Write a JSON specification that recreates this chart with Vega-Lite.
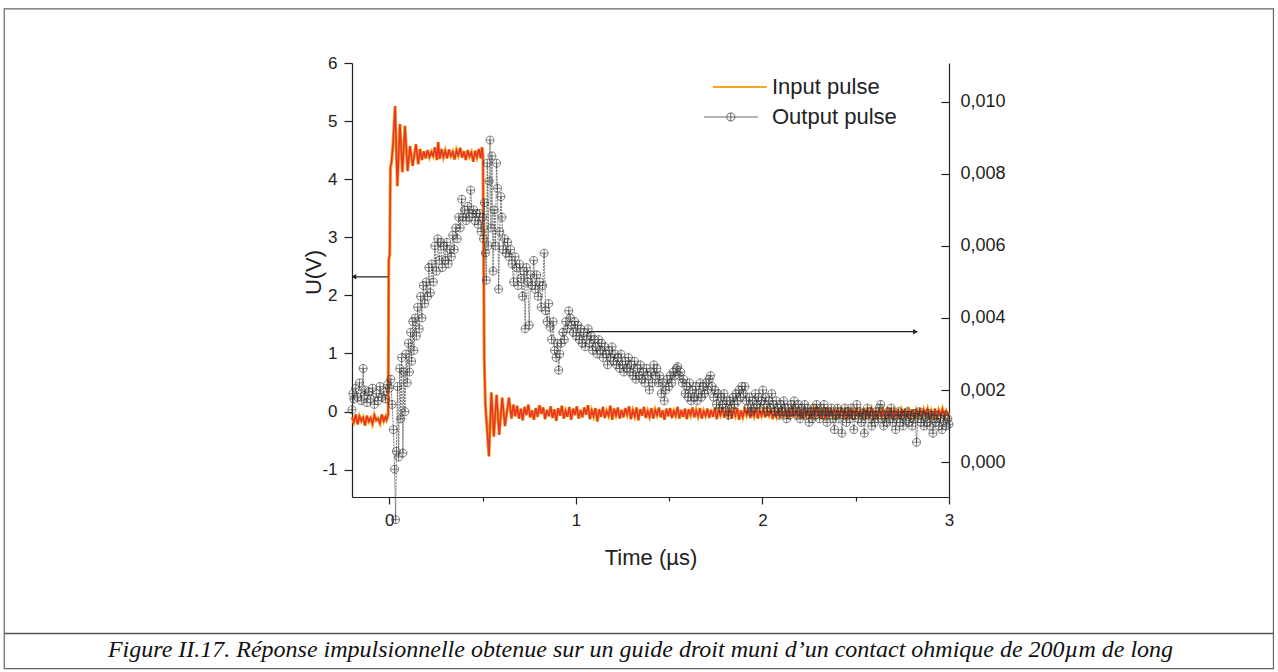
{
"$schema": "https://vega.github.io/schema/vega-lite/v6.json",
"width": 597,
"height": 434,
"autosize": {"type": "none"},
"padding": {"left": 352, "top": 63, "right": 329, "bottom": 175},
"background": "white",
"config": {
  "view": {"stroke": null},
  "font": "Liberation Sans",
  "axis": {"labelFont": "Liberation Sans", "titleFont": "Liberation Sans", "titleFontWeight": "normal", "grid": false, "domainColor": "#222", "tickColor": "#222", "labelColor": "#222", "titleColor": "#222", "domainWidth": 1.2, "tickWidth": 1.2, "labelOverlap": false, "labelFlush": false},
  "legend": {"labelFont": "Liberation Sans"}
},
"title": {"text": "Figure II.17. Réponse impulsionnelle obtenue sur un guide droit muni d’un contact ohmique de 200µm de long", "orient": "bottom", "anchor": "middle", "font": "Liberation Serif", "fontSize": 24, "fontStyle": "italic", "fontWeight": "normal", "color": "#111", "offset": -31, "dx": -10},
"datasets": {
"inp": [
{"t":-0.2,"u":-0.1},{"t":-0.19,"u":-0.18},{"t":-0.18,"u":-0.05},{"t":-0.17,"u":-0.22},{"t":-0.16,"u":-0.08},{"t":-0.15,"u":-0.16},{"t":-0.14,"u":-0.1},{"t":-0.13,"u":-0.24},{"t":-0.12,"u":-0.07},{"t":-0.11,"u":-0.17},{"t":-0.1,"u":-0.11},{"t":-0.09,"u":-0.21},{"t":-0.08,"u":-0.06},{"t":-0.07,"u":-0.15},{"t":-0.06,"u":-0.12},{"t":-0.05,"u":-0.2},{"t":-0.04,"u":-0.05},{"t":-0.03,"u":-0.16},{"t":-0.02,"u":-0.09},{"t":-0.015,"u":-0.14},{"t":-0.01,"u":-0.1},{"t":-0.006,"u":-0.05},
{"t":-0.003,"u":2.6},{"t":0.002,"u":2.7},{"t":0.006,"u":4.2},{"t":0.012,"u":4.3},{"t":0.02,"u":4.6},{"t":0.031,"u":5.26},{"t":0.043,"u":3.88},{"t":0.057,"u":4.95},{"t":0.07,"u":4.12},{"t":0.084,"u":4.92},{"t":0.098,"u":4.14},{"t":0.111,"u":4.57},{"t":0.125,"u":4.23},{"t":0.143,"u":4.6},{"t":0.155,"u":4.26},{"t":0.165,"u":4.52},{"t":0.175,"u":4.33},{"t":0.185,"u":4.48},
{"t":0.195,"u":4.36},{"t":0.205,"u":4.5},{"t":0.215,"u":4.38},{"t":0.225,"u":4.47},{"t":0.235,"u":4.4},{"t":0.245,"u":4.55},{"t":0.255,"u":4.33},{"t":0.262,"u":4.64},{"t":0.27,"u":4.35},{"t":0.28,"u":4.52},{"t":0.29,"u":4.38},{"t":0.3,"u":4.49},{"t":0.31,"u":4.36},{"t":0.32,"u":4.51},{"t":0.33,"u":4.4},{"t":0.34,"u":4.47},{"t":0.35,"u":4.34},{"t":0.36,"u":4.5},{"t":0.37,"u":4.41},{"t":0.38,"u":4.54},{"t":0.39,"u":4.37},{"t":0.4,"u":4.48},{"t":0.41,"u":4.33},{"t":0.42,"u":4.5},{"t":0.43,"u":4.39},{"t":0.44,"u":4.46},{"t":0.45,"u":4.3},{"t":0.46,"u":4.49},{"t":0.47,"u":4.38},{"t":0.48,"u":4.52},{"t":0.49,"u":4.36},{"t":0.497,"u":4.55},
{"t":0.502,"u":4.4},{"t":0.509,"u":0.9},{"t":0.515,"u":0.12},{"t":0.534,"u":-0.77},{"t":0.547,"u":0.33},{"t":0.56,"u":-0.43},{"t":0.575,"u":0.29},{"t":0.589,"u":-0.4},{"t":0.605,"u":0.24},{"t":0.62,"u":-0.25},{"t":0.641,"u":0.24},{"t":0.655,"u":-0.12},{"t":0.665,"u":0.12},
{"t":0.675,"u":-0.08},{"t":0.685,"u":0.1},{"t":0.695,"u":-0.12},{"t":0.705,"u":0.05},{"t":0.715,"u":-0.15},{"t":0.725,"u":0.08},{"t":0.735,"u":-0.06},{"t":0.745,"u":0.12},{"t":0.755,"u":-0.1},{"t":0.765,"u":0.02},{"t":0.775,"u":-0.14},{"t":0.785,"u":0.06},{"t":0.795,"u":-0.09},{"t":0.805,"u":0.11},{"t":0.815,"u":-0.04},{"t":0.825,"u":0.07},{"t":0.835,"u":-0.13},{"t":0.845,"u":0.03},{"t":0.855,"u":-0.08},{"t":0.865,"u":0.09},{"t":0.875,"u":-0.11},{"t":0.885,"u":0.04},{"t":0.895,"u":-0.16},{"t":0.905,"u":0.06},{"t":0.915,"u":-0.07},{"t":0.925,"u":0.1},{"t":0.935,"u":-0.12},{"t":0.945,"u":0.01},{"t":0.955,"u":-0.09},{"t":0.965,"u":0.08},{"t":0.975,"u":-0.14},{"t":0.985,"u":0.05},{"t":0.995,"u":-0.06},
{"t":1.005,"u":0.09},{"t":1.015,"u":-0.12},{"t":1.025,"u":0.03},{"t":1.035,"u":-0.1},{"t":1.045,"u":0.07},{"t":1.055,"u":-0.05},{"t":1.065,"u":0.11},{"t":1.075,"u":-0.13},{"t":1.085,"u":0.02},{"t":1.095,"u":-0.08},{"t":1.105,"u":0.06},{"t":1.115,"u":-0.17},{"t":1.125,"u":0.04},{"t":1.135,"u":-0.09},{"t":1.145,"u":0.08},{"t":1.155,"u":-0.11},{"t":1.165,"u":0.01},{"t":1.175,"u":-0.07},{"t":1.185,"u":0.1},{"t":1.195,"u":-0.14},{"t":1.205,"u":0.05},{"t":1.215,"u":-0.06},{"t":1.225,"u":0.07},{"t":1.235,"u":-0.12},{"t":1.245,"u":0.03},{"t":1.255,"u":-0.1},{"t":1.265,"u":0.06},{"t":1.275,"u":-0.05},{"t":1.285,"u":0.09},{"t":1.295,"u":-0.13},{"t":1.305,"u":0.02},{"t":1.315,"u":-0.08},{"t":1.325,"u":0.07},{"t":1.335,"u":-0.15},{"t":1.345,"u":0.04},{"t":1.355,"u":-0.07},{"t":1.365,"u":0.08},{"t":1.375,"u":-0.11},{"t":1.385,"u":0.01},{"t":1.395,"u":-0.09},{"t":1.405,"u":0.06},{"t":1.415,"u":-0.12},{"t":1.425,"u":0.03},{"t":1.435,"u":-0.06},{"t":1.445,"u":0.07},{"t":1.455,"u":-0.1},{"t":1.465,"u":0.02},{"t":1.475,"u":-0.14},{"t":1.485,"u":0.05},{"t":1.495,"u":-0.08},
{"t":1.505,"u":0.06},{"t":1.515,"u":-0.11},{"t":1.525,"u":0.01},{"t":1.535,"u":-0.07},{"t":1.545,"u":0.08},{"t":1.555,"u":-0.12},{"t":1.565,"u":0.03},{"t":1.575,"u":-0.09},{"t":1.585,"u":0.05},{"t":1.595,"u":-0.13},{"t":1.605,"u":0.04},{"t":1.615,"u":-0.06},{"t":1.625,"u":0.07},{"t":1.635,"u":-0.1},{"t":1.645,"u":0.02},{"t":1.655,"u":-0.08},{"t":1.665,"u":0.06},{"t":1.675,"u":-0.12},{"t":1.685,"u":0.01},{"t":1.695,"u":-0.07},{"t":1.705,"u":0.05},{"t":1.715,"u":-0.11},{"t":1.725,"u":0.03},{"t":1.735,"u":-0.09},{"t":1.745,"u":0.06},{"t":1.755,"u":-0.13},{"t":1.765,"u":0.02},{"t":1.775,"u":-0.06},{"t":1.785,"u":0.07},{"t":1.795,"u":-0.1},{"t":1.805,"u":0.01},{"t":1.815,"u":-0.08},{"t":1.825,"u":0.05},{"t":1.835,"u":-0.12},{"t":1.845,"u":0.03},{"t":1.855,"u":-0.07},{"t":1.865,"u":0.06},{"t":1.875,"u":-0.14},{"t":1.885,"u":0.02},{"t":1.895,"u":-0.09},{"t":1.905,"u":0.04},{"t":1.915,"u":-0.06},{"t":1.925,"u":0.05},{"t":1.935,"u":-0.11},{"t":1.945,"u":0.01},{"t":1.955,"u":-0.08},{"t":1.965,"u":0.06},{"t":1.975,"u":-0.12},{"t":1.985,"u":0.02},{"t":1.995,"u":-0.07},
{"t":2.005,"u":0.04},{"t":2.015,"u":-0.1},{"t":2.025,"u":0.03},{"t":2.035,"u":-0.06},{"t":2.045,"u":0.05},{"t":2.055,"u":-0.13},{"t":2.065,"u":0.01},{"t":2.075,"u":-0.08},{"t":2.085,"u":0.06},{"t":2.095,"u":-0.11},{"t":2.105,"u":0.02},{"t":2.115,"u":-0.07},{"t":2.125,"u":0.04},{"t":2.135,"u":-0.12},{"t":2.145,"u":0.03},{"t":2.155,"u":-0.09},{"t":2.165,"u":0.05},{"t":2.175,"u":-0.06},{"t":2.185,"u":0.02},{"t":2.195,"u":-0.1},{"t":2.205,"u":0.04},{"t":2.215,"u":-0.13},{"t":2.225,"u":0.01},{"t":2.235,"u":-0.07},{"t":2.245,"u":0.06},{"t":2.255,"u":-0.11},{"t":2.265,"u":0.02},{"t":2.275,"u":-0.08},{"t":2.285,"u":0.05},{"t":2.295,"u":-0.05},{"t":2.305,"u":0.03},{"t":2.315,"u":-0.12},{"t":2.325,"u":0.01},{"t":2.335,"u":-0.09},{"t":2.345,"u":0.06},{"t":2.355,"u":-0.1},{"t":2.365,"u":0.02},{"t":2.375,"u":-0.07},{"t":2.385,"u":0.04},{"t":2.395,"u":-0.13},{"t":2.405,"u":0.03},{"t":2.415,"u":-0.06},{"t":2.425,"u":0.05},{"t":2.435,"u":-0.11},{"t":2.445,"u":0.01},{"t":2.455,"u":-0.08},{"t":2.465,"u":0.04},{"t":2.475,"u":-0.12},{"t":2.485,"u":0.02},{"t":2.495,"u":-0.06},
{"t":2.505,"u":0.06},{"t":2.515,"u":-0.1},{"t":2.525,"u":0.01},{"t":2.535,"u":-0.08},{"t":2.545,"u":0.05},{"t":2.555,"u":-0.12},{"t":2.565,"u":0.03},{"t":2.575,"u":-0.07},{"t":2.585,"u":0.04},{"t":2.595,"u":-0.09},{"t":2.605,"u":0.02},{"t":2.615,"u":-0.13},{"t":2.625,"u":0.05},{"t":2.635,"u":-0.06},{"t":2.645,"u":0.03},{"t":2.655,"u":-0.1},{"t":2.665,"u":0.01},{"t":2.675,"u":-0.08},{"t":2.685,"u":0.06},{"t":2.695,"u":-0.11},{"t":2.705,"u":0.02},{"t":2.715,"u":-0.07},{"t":2.725,"u":0.04},{"t":2.735,"u":-0.12},{"t":2.745,"u":0.03},{"t":2.755,"u":-0.06},{"t":2.765,"u":0.05},{"t":2.775,"u":-0.1},{"t":2.785,"u":0.01},{"t":2.795,"u":-0.09},{"t":2.805,"u":0.04},{"t":2.815,"u":-0.13},{"t":2.825,"u":0.02},{"t":2.835,"u":-0.07},{"t":2.845,"u":0.05},{"t":2.855,"u":-0.11},{"t":2.865,"u":0.03},{"t":2.875,"u":-0.06},{"t":2.885,"u":0.04},{"t":2.895,"u":-0.1},{"t":2.905,"u":0.01},{"t":2.915,"u":-0.08},{"t":2.925,"u":0.05},{"t":2.935,"u":-0.12},{"t":2.945,"u":0.02},{"t":2.955,"u":-0.07},{"t":2.965,"u":0.04},{"t":2.975,"u":-0.09},{"t":2.985,"u":0.01},{"t":2.995,"u":-0.06},{"t":3.0,"u":-0.02}
],
"out": [
{"t":-0.2,"r":0.00145},{"t":-0.195,"r":0.0019},{"t":-0.19,"r":0.00175},{"t":-0.18,"r":0.00205},{"t":-0.17,"r":0.0018},{"t":-0.16,"r":0.0022},{"t":-0.15,"r":0.0017},{"t":-0.14,"r":0.0026},{"t":-0.135,"r":0.00185},{"t":-0.13,"r":0.002},{"t":-0.12,"r":0.00165},{"t":-0.11,"r":0.00195},{"t":-0.1,"r":0.00175},{"t":-0.09,"r":0.00205},{"t":-0.08,"r":0.0016},{"t":-0.07,"r":0.0019},{"t":-0.06,"r":0.0017},{"t":-0.05,"r":0.0021},{"t":-0.04,"r":0.0018},{"t":-0.03,"r":0.00195},{"t":-0.02,"r":0.00175},{"t":-0.01,"r":0.00215},{"t":0.0,"r":0.00205},
{"t":0.008,"r":0.0023},{"t":0.015,"r":0.0016},{"t":0.022,"r":0.0009},{"t":0.028,"r":-0.0002},{"t":0.034,"r":-0.0016},{"t":0.038,"r":0.0003},{"t":0.044,"r":0.0021},{"t":0.05,"r":0.00014},{"t":0.056,"r":0.0026},{"t":0.062,"r":0.0012},{"t":0.066,"r":0.0029},{"t":0.073,"r":0.00025},{"t":0.078,"r":0.0025},{"t":0.084,"r":0.0014},{"t":0.09,"r":0.003},{"t":0.096,"r":0.0022},{"t":0.102,"r":0.0033},{"t":0.108,"r":0.0025},{"t":0.114,"r":0.0036},{"t":0.12,"r":0.0028},{"t":0.126,"r":0.0039},{"t":0.132,"r":0.0031},{"t":0.138,"r":0.004},{"t":0.145,"r":0.0035},{"t":0.152,"r":0.0043},{"t":0.16,"r":0.0037},{"t":0.168,"r":0.0046},{"t":0.175,"r":0.004},{"t":0.182,"r":0.0049},{"t":0.19,"r":0.0044},{"t":0.198,"r":0.005},{"t":0.205,"r":0.0046},{"t":0.212,"r":0.0054},{"t":0.22,"r":0.0047},{"t":0.228,"r":0.0055},{"t":0.236,"r":0.005},{"t":0.244,"r":0.006},{"t":0.252,"r":0.0053},{"t":0.26,"r":0.0062},{"t":0.268,"r":0.0056},{"t":0.276,"r":0.0061},{"t":0.284,"r":0.0054},{"t":0.292,"r":0.006},{"t":0.3,"r":0.0056},{"t":0.308,"r":0.0061},{"t":0.316,"r":0.0055},{"t":0.324,"r":0.0059},{"t":0.332,"r":0.0057},{"t":0.34,"r":0.0063},{"t":0.348,"r":0.0059},{"t":0.356,"r":0.0065},{"t":0.364,"r":0.0062},{"t":0.372,"r":0.0068},{"t":0.38,"r":0.0065},{"t":0.388,"r":0.0073},{"t":0.396,"r":0.0068},{"t":0.404,"r":0.007},{"t":0.412,"r":0.0067},{"t":0.42,"r":0.0071},{"t":0.428,"r":0.0068},{"t":0.436,"r":0.00755},{"t":0.444,"r":0.0069},{"t":0.452,"r":0.007},{"t":0.46,"r":0.0067},{"t":0.468,"r":0.0069},{"t":0.476,"r":0.0066},{"t":0.484,"r":0.0069},{"t":0.492,"r":0.0064},{"t":0.5,"r":0.0068},
{"t":0.505,"r":0.0062},{"t":0.51,"r":0.0072},{"t":0.515,"r":0.0058},{"t":0.52,"r":0.00505},{"t":0.525,"r":0.0083},{"t":0.53,"r":0.006},{"t":0.535,"r":0.0078},{"t":0.54,"r":0.00894},{"t":0.545,"r":0.0065},{"t":0.55,"r":0.0085},{"t":0.556,"r":0.0053},{"t":0.562,"r":0.007},{"t":0.568,"r":0.006},{"t":0.575,"r":0.0083},{"t":0.58,"r":0.0076},{"t":0.586,"r":0.0048},{"t":0.592,"r":0.0064},{"t":0.598,"r":0.00737},{"t":0.604,"r":0.0068},{"t":0.61,"r":0.0059},{"t":0.618,"r":0.0062},{"t":0.626,"r":0.0058},{"t":0.634,"r":0.0061},{"t":0.642,"r":0.0057},{"t":0.65,"r":0.0059},{"t":0.658,"r":0.0055},{"t":0.666,"r":0.005},{"t":0.674,"r":0.0057},{"t":0.682,"r":0.0054},{"t":0.69,"r":0.0049},{"t":0.698,"r":0.0055},{"t":0.706,"r":0.0051},{"t":0.714,"r":0.0046},{"t":0.722,"r":0.0053},{"t":0.728,"r":0.0037},{"t":0.735,"r":0.0054},{"t":0.742,"r":0.005},{"t":0.75,"r":0.0038},{"t":0.758,"r":0.0052},{"t":0.766,"r":0.0049},{"t":0.774,"r":0.0056},{"t":0.782,"r":0.0048},{"t":0.79,"r":0.0052},{"t":0.798,"r":0.0046},{"t":0.806,"r":0.005},{"t":0.814,"r":0.0043},{"t":0.822,"r":0.0049},{"t":0.83,"r":0.0058},{"t":0.838,"r":0.0042},{"t":0.846,"r":0.0039},{"t":0.854,"r":0.0044},{"t":0.862,"r":0.00375},{"t":0.87,"r":0.0034},{"t":0.878,"r":0.0039},{"t":0.886,"r":0.0031},{"t":0.894,"r":0.0029},{"t":0.9,"r":0.0033},{"t":0.908,"r":0.00255},{"t":0.914,"r":0.003},{"t":0.922,"r":0.0033},{"t":0.93,"r":0.0036},{"t":0.938,"r":0.0034},{"t":0.946,"r":0.0039},{"t":0.954,"r":0.0037},{"t":0.962,"r":0.0042},{"t":0.97,"r":0.004},{"t":0.978,"r":0.0038},{"t":0.986,"r":0.0036},{"t":0.994,"r":0.0039},
{"t":1.002,"r":0.0035},{"t":1.01,"r":0.0038},{"t":1.018,"r":0.0034},{"t":1.026,"r":0.0037},{"t":1.034,"r":0.0033},{"t":1.042,"r":0.0036},{"t":1.05,"r":0.0032},{"t":1.058,"r":0.0035},{"t":1.066,"r":0.0037},{"t":1.074,"r":0.0033},{"t":1.082,"r":0.0035},{"t":1.09,"r":0.0031},{"t":1.098,"r":0.0034},{"t":1.106,"r":0.0032},{"t":1.114,"r":0.003},{"t":1.122,"r":0.0034},{"t":1.13,"r":0.0031},{"t":1.138,"r":0.0033},{"t":1.146,"r":0.0029},{"t":1.154,"r":0.0032},{"t":1.162,"r":0.003},{"t":1.17,"r":0.0027},{"t":1.178,"r":0.0031},{"t":1.186,"r":0.0029},{"t":1.194,"r":0.0032},{"t":1.202,"r":0.0028},{"t":1.21,"r":0.003},{"t":1.218,"r":0.0027},{"t":1.226,"r":0.0029},{"t":1.234,"r":0.0026},{"t":1.242,"r":0.003},{"t":1.25,"r":0.0027},{"t":1.258,"r":0.0025},{"t":1.266,"r":0.0028},{"t":1.274,"r":0.0026},{"t":1.282,"r":0.0029},{"t":1.29,"r":0.0025},{"t":1.298,"r":0.0027},{"t":1.306,"r":0.0024},{"t":1.314,"r":0.0028},{"t":1.322,"r":0.0023},{"t":1.33,"r":0.0026},{"t":1.338,"r":0.0024},{"t":1.346,"r":0.0027},{"t":1.354,"r":0.0023},{"t":1.362,"r":0.0025},{"t":1.37,"r":0.0022},{"t":1.378,"r":0.0026},{"t":1.386,"r":0.0024},{"t":1.394,"r":0.002},{"t":1.402,"r":0.0025},{"t":1.41,"r":0.0022},{"t":1.418,"r":0.0027},{"t":1.426,"r":0.0024},{"t":1.434,"r":0.0026},{"t":1.442,"r":0.0022},{"t":1.45,"r":0.0024},{"t":1.458,"r":0.0019},{"t":1.466,"r":0.0022},{"t":1.474,"r":0.0017},{"t":1.482,"r":0.002},{"t":1.49,"r":0.0023},{"t":1.498,"r":0.0021},
{"t":1.506,"r":0.0024},{"t":1.514,"r":0.0022},{"t":1.522,"r":0.0025},{"t":1.53,"r":0.0024},{"t":1.538,"r":0.0026},{"t":1.546,"r":0.00265},{"t":1.554,"r":0.0024},{"t":1.562,"r":0.0025},{"t":1.57,"r":0.0022},{"t":1.578,"r":0.0023},{"t":1.586,"r":0.0019},{"t":1.594,"r":0.0021},{"t":1.602,"r":0.0018},{"t":1.61,"r":0.0022},{"t":1.618,"r":0.0017},{"t":1.626,"r":0.002},{"t":1.634,"r":0.0018},{"t":1.642,"r":0.0021},{"t":1.65,"r":0.0017},{"t":1.658,"r":0.0019},{"t":1.666,"r":0.0022},{"t":1.674,"r":0.0018},{"t":1.682,"r":0.0021},{"t":1.69,"r":0.0019},{"t":1.698,"r":0.0022},{"t":1.706,"r":0.002},{"t":1.714,"r":0.0023},{"t":1.722,"r":0.0024},{"t":1.73,"r":0.0021},{"t":1.738,"r":0.0018},{"t":1.746,"r":0.002},{"t":1.754,"r":0.0016},{"t":1.762,"r":0.0019},{"t":1.77,"r":0.0015},{"t":1.778,"r":0.0018},{"t":1.786,"r":0.0016},{"t":1.794,"r":0.0019},{"t":1.802,"r":0.0015},{"t":1.81,"r":0.0017},{"t":1.818,"r":0.0013},{"t":1.826,"r":0.0017},{"t":1.834,"r":0.0015},{"t":1.842,"r":0.0018},{"t":1.85,"r":0.0016},{"t":1.858,"r":0.0019},{"t":1.866,"r":0.0017},{"t":1.874,"r":0.002},{"t":1.882,"r":0.0018},{"t":1.89,"r":0.0021},{"t":1.898,"r":0.0019},{"t":1.906,"r":0.0021},{"t":1.914,"r":0.0017},{"t":1.922,"r":0.0015},{"t":1.93,"r":0.0018},{"t":1.938,"r":0.0014},{"t":1.946,"r":0.0017},{"t":1.954,"r":0.0015},{"t":1.962,"r":0.0019},{"t":1.97,"r":0.0016},{"t":1.978,"r":0.0018},{"t":1.986,"r":0.0015},{"t":1.994,"r":0.0017},
{"t":2.002,"r":0.002},{"t":2.01,"r":0.0016},{"t":2.018,"r":0.0018},{"t":2.026,"r":0.0014},{"t":2.034,"r":0.0017},{"t":2.042,"r":0.0015},{"t":2.05,"r":0.0019},{"t":2.058,"r":0.0016},{"t":2.066,"r":0.0014},{"t":2.074,"r":0.0017},{"t":2.082,"r":0.0015},{"t":2.09,"r":0.0013},{"t":2.098,"r":0.0016},{"t":2.106,"r":0.0014},{"t":2.114,"r":0.0017},{"t":2.122,"r":0.0015},{"t":2.13,"r":0.0012},{"t":2.138,"r":0.0015},{"t":2.146,"r":0.0013},{"t":2.154,"r":0.0016},{"t":2.162,"r":0.0014},{"t":2.17,"r":0.0017},{"t":2.178,"r":0.0015},{"t":2.186,"r":0.0013},{"t":2.194,"r":0.0016},{"t":2.202,"r":0.0012},{"t":2.21,"r":0.0015},{"t":2.218,"r":0.00135},{"t":2.226,"r":0.0016},{"t":2.234,"r":0.0013},{"t":2.242,"r":0.0015},{"t":2.25,"r":0.0011},{"t":2.258,"r":0.0014},{"t":2.266,"r":0.0012},{"t":2.274,"r":0.0015},{"t":2.282,"r":0.0013},{"t":2.29,"r":0.0016},{"t":2.298,"r":0.0014},{"t":2.306,"r":0.0012},{"t":2.314,"r":0.0015},{"t":2.322,"r":0.0013},{"t":2.33,"r":0.0016},{"t":2.338,"r":0.0014},{"t":2.346,"r":0.0011},{"t":2.354,"r":0.0014},{"t":2.362,"r":0.0013},{"t":2.37,"r":0.0015},{"t":2.378,"r":0.0012},{"t":2.386,"r":0.0009},{"t":2.394,"r":0.0013},{"t":2.402,"r":0.0015},{"t":2.41,"r":0.0012},{"t":2.418,"r":0.0014},{"t":2.426,"r":0.0008},{"t":2.434,"r":0.0013},{"t":2.442,"r":0.0015},{"t":2.45,"r":0.0011},{"t":2.458,"r":0.0014},{"t":2.466,"r":0.0012},{"t":2.474,"r":0.0015},{"t":2.482,"r":0.0013},{"t":2.49,"r":0.0009},{"t":2.498,"r":0.0013},
{"t":2.506,"r":0.0016},{"t":2.514,"r":0.0012},{"t":2.522,"r":0.0014},{"t":2.53,"r":0.0011},{"t":2.538,"r":0.00135},{"t":2.546,"r":0.0008},{"t":2.554,"r":0.0013},{"t":2.562,"r":0.0015},{"t":2.57,"r":0.0012},{"t":2.578,"r":0.0014},{"t":2.586,"r":0.001},{"t":2.594,"r":0.0013},{"t":2.602,"r":0.0011},{"t":2.61,"r":0.0014},{"t":2.618,"r":0.0012},{"t":2.626,"r":0.0015},{"t":2.634,"r":0.0016},{"t":2.642,"r":0.0012},{"t":2.65,"r":0.001},{"t":2.658,"r":0.0013},{"t":2.666,"r":0.0011},{"t":2.674,"r":0.0014},{"t":2.682,"r":0.0012},{"t":2.69,"r":0.0015},{"t":2.698,"r":0.0011},{"t":2.706,"r":0.0013},{"t":2.714,"r":0.0009},{"t":2.722,"r":0.0012},{"t":2.73,"r":0.0014},{"t":2.738,"r":0.0011},{"t":2.746,"r":0.0013},{"t":2.754,"r":0.001},{"t":2.762,"r":0.0013},{"t":2.77,"r":0.00115},{"t":2.778,"r":0.0014},{"t":2.786,"r":0.0011},{"t":2.794,"r":0.0013},{"t":2.802,"r":0.001},{"t":2.81,"r":0.0012},{"t":2.818,"r":0.00135},{"t":2.826,"r":0.00055},{"t":2.834,"r":0.0012},{"t":2.842,"r":0.0014},{"t":2.85,"r":0.0011},{"t":2.858,"r":0.0013},{"t":2.866,"r":0.001},{"t":2.874,"r":0.00125},{"t":2.882,"r":0.0011},{"t":2.89,"r":0.00135},{"t":2.898,"r":0.001},{"t":2.906,"r":0.0013},{"t":2.914,"r":0.0008},{"t":2.922,"r":0.0012},{"t":2.93,"r":0.0011},{"t":2.938,"r":0.0013},{"t":2.946,"r":0.001},{"t":2.954,"r":0.0012},{"t":2.962,"r":0.0009},{"t":2.97,"r":0.00115},{"t":2.978,"r":0.0013},{"t":2.986,"r":0.001},{"t":2.994,"r":0.0012},{"t":3.0,"r":0.00105}
]
},
"layer": [
{
  "layer": [
    {
      "data": {"values": [{"x1": -2.064, "x2": 4.739, "y1": 6.933, "y2": -4.425}]},
      "mark": {"type": "rect", "fill": null, "stroke": "#666", "strokeWidth": 1.2},
      "encoding": {
        "x": {"field": "x1", "type": "quantitative", "scale": {"domain": [-0.2, 3], "nice": false, "zero": false}},
        "x2": {"field": "x2"},
        "y": {"field": "y1", "type": "quantitative", "scale": {"domain": [-1.47, 6], "nice": false, "zero": false}},
        "y2": {"field": "y2"}
      }
    },
    {
      "data": {"values": [{"x1": -2.064, "x2": 4.739, "y": -3.82}]},
      "mark": {"type": "rule", "stroke": "#555", "strokeWidth": 1.5},
      "encoding": {
        "x": {"field": "x1", "type": "quantitative"},
        "x2": {"field": "x2"},
        "y": {"field": "y", "type": "quantitative"}
      }
    },
    {
      "data": {"name": "inp"},
      "mark": {"type": "line", "strokeWidth": 3.2, "interpolate": "linear"},
      "encoding": {
        "x": {"field": "t", "type": "quantitative", "scale": {"domain": [-0.2, 3], "nice": false, "zero": false},
              "axis": {"orient": "bottom", "title": "Time (µs)", "values": [0, 0.5, 1, 1.5, 2, 2.5, 3], "labelExpr": "datum.value % 1 === 0 ? '' + datum.value : ''", "tickSize": {"condition": {"test": "datum.value % 1 !== 0", "value": 4}, "value": 7}, "labelFontSize": 17, "labelPadding": 8, "titleFontSize": 22, "titlePadding": 19}},
        "y": {"field": "u", "type": "quantitative", "scale": {"domain": [-1.47, 6], "nice": false, "zero": false},
              "axis": {"orient": "left", "title": "U(V)", "values": [-1, -0.5, 0, 0.5, 1, 1.5, 2, 2.5, 3, 3.5, 4, 4.5, 5, 5.5, 6], "labelExpr": "datum.value % 1 === 0 ? '' + datum.value : ''", "tickSize": {"condition": {"test": "datum.value % 1 !== 0", "value": 4}, "value": 8}, "labelFontSize": 17, "labelPadding": 7, "titleFontSize": 22, "titlePadding": -4, "titleY": 209}},
        "color": {"datum": "Input pulse", "type": "nominal",
                  "scale": {"domain": ["Input pulse", "Output pulse"], "range": ["#f5a623", "#444444"]},
                  "legend": {"orient": "none", "legendX": 393, "legendY": 13, "title": null, "padding": 0, "labelFontSize": 22, "labelColor": "#222", "symbolSize": 324, "symbolStrokeWidth": 2, "rowPadding": 8, "labelOffset": 5,
                    "encode": {"symbols": {"update": {
                      "shape": {"signal": "datum.value === 'Input pulse' ? 'M -4.8 0 L 1.2 0' : 'M -5.8 0 L 0.2 0 M -3.25 0 A 0.45 0.45 0 1 1 -2.35 0 A 0.45 0.45 0 1 1 -3.25 0 M -2.8 -0.45 L -2.8 0.45'"},
                      "strokeWidth": {"signal": "datum.value === 'Input pulse' ? 2 : 0.8"},
                      "fill": {"value": "transparent"}
                    }}}}}
      }
    },
    {
      "data": {"name": "inp"},
      "mark": {"type": "line", "strokeWidth": 1.6, "color": "#e8342a"},
      "encoding": {
        "x": {"field": "t", "type": "quantitative"},
        "y": {"field": "u", "type": "quantitative"}
      }
    },
    {
      "data": {"values": [{"a": -0.2, "b": -0.008, "y": 2.32, "h": -0.19}]},
      "layer": [
        {"mark": {"type": "rule", "color": "#222", "strokeWidth": 1.2},
         "encoding": {"x": {"field": "a", "type": "quantitative"}, "x2": {"field": "b"}, "y": {"field": "y", "type": "quantitative"}}},
        {"mark": {"type": "point", "shape": "triangle-left", "filled": true, "color": "#222", "size": 30, "opacity": 1},
         "encoding": {"x": {"field": "h", "type": "quantitative"}, "y": {"field": "y", "type": "quantitative"}}}
      ]
    }
  ]
},
{
  "layer": [
    {
      "data": {"name": "out"},
      "mark": {"type": "line", "strokeWidth": 0.7, "strokeDash": [2, 1]},
      "encoding": {
        "x": {"field": "t", "type": "quantitative", "scale": {"domain": [-0.2, 3], "nice": false, "zero": false}},
        "y": {"field": "r", "type": "quantitative", "scale": {"domain": [-0.00097, 0.01108], "nice": false, "zero": false},
              "axis": {"orient": "right", "title": null, "values": [0, 0.002, 0.004, 0.006, 0.008, 0.01], "labelExpr": "replace(format(datum.value, '.3f'), '.', ',')", "tickSize": -8, "labelPadding": 19, "labelFontSize": 18}},
        "color": {"datum": "Output pulse", "type": "nominal"}
      }
    },
    {
      "data": {"name": "out"},
      "mark": {"type": "point", "shape": "M -1 0 A 1 1 0 1 1 1 0 A 1 1 0 1 1 -1 0 M -1 0 L 1 0 M 0 -1 L 0 1", "filled": false, "size": 64, "stroke": "#3a3a3a", "strokeWidth": 0.7, "opacity": 0.9},
      "encoding": {
        "x": {"field": "t", "type": "quantitative"},
        "y": {"field": "r", "type": "quantitative"}
      }
    },
    {
      "data": {"values": [{"a": 1.07, "b": 2.83, "y": 0.00362, "h": 2.82}]},
      "layer": [
        {"mark": {"type": "rule", "color": "#222", "strokeWidth": 1.2},
         "encoding": {"x": {"field": "a", "type": "quantitative"}, "x2": {"field": "b"}, "y": {"field": "y", "type": "quantitative"}}},
        {"mark": {"type": "point", "shape": "triangle-right", "filled": true, "color": "#222", "size": 30, "opacity": 1},
         "encoding": {"x": {"field": "h", "type": "quantitative"}, "y": {"field": "y", "type": "quantitative"}}}
      ]
    }
  ]
}
],
"resolve": {"scale": {"y": "independent"}}
}
